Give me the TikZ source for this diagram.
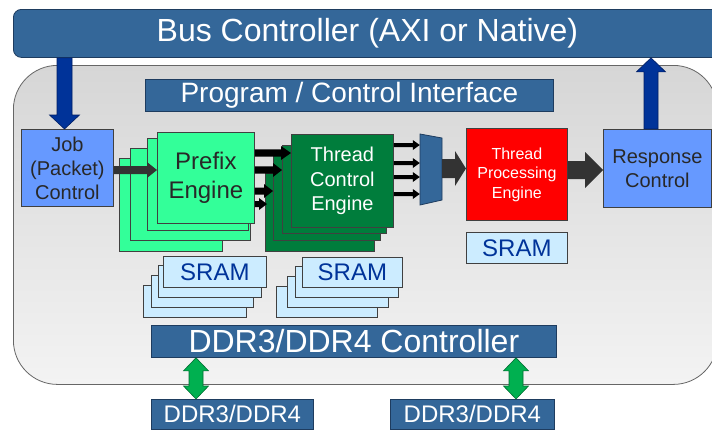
\documentclass[tikz,border=0pt]{standalone}
\usepackage{fontspec}
\usepackage{graphicx}
\setmainfont{Liberation Sans}
\usetikzlibrary{calc,fit}
\definecolor{steel}{RGB}{52,103,153}
\definecolor{steelline}{RGB}{30,60,95}
\definecolor{lblue}{RGB}{102,153,255}
\definecolor{lgreen}{RGB}{51,255,153}
\definecolor{dgreen}{RGB}{0,125,60}
\definecolor{sramfill}{RGB}{204,236,255}
\definecolor{sramtext}{RGB}{0,51,153}
\definecolor{navy}{RGB}{0,51,153}
\definecolor{navyline}{RGB}{0,30,100}
\definecolor{ggreen}{RGB}{0,176,80}
\definecolor{ggreenline}{RGB}{0,110,50}
\definecolor{dgray}{RGB}{51,51,51}
\definecolor{txtgray}{RGB}{40,40,40}
\definecolor{bgtop}{RGB}{214,214,214}
\definecolor{bgbot}{RGB}{243,243,243}
\definecolor{boxline}{RGB}{64,64,64}
\tikzset{
  blk/.style={draw=boxline, line width=0.8pt, inner sep=0pt, anchor=north west, align=center},
  sz/.style 2 args={minimum width=#1pt, minimum height=#2pt},
  fs/.style 2 args={font=\fontsize{#1}{#2}\selectfont},
  steelbox/.style={blk, fill=steel, draw=steelline, text=white},
  pebox/.style={blk, fill=lgreen},
  tcebox/.style={blk, fill=dgreen, text=white},
  srambox/.style={blk, fill=sramfill, text=sramtext, fs={24}{28}},
  harrow/.style n args={3}{to path={let \p1=(\tikztostart), \p2=(\tikztotarget) in
    (\x1,\y1+#1) -- (\x2-#3,\y1+#1) -- (\x2-#3,\y1+#2) -- (\x2,\y1) -- (\x2-#3,\y1-#2) -- (\x2-#3,\y1-#1) -- (\x1,\y1-#1) -- cycle}},
  varrow/.style n args={3}{to path={let \p1=(\tikztostart), \p2=(\tikztotarget), \n1={(\y1-\y2)/abs(\y1-\y2)} in
    (\x1-#1,\y1) -- (\x1-#1,\y2+\n1*#3) -- (\x1-#2,\y2+\n1*#3) -- (\x1,\y2) -- (\x1+#2,\y2+\n1*#3) -- (\x1+#1,\y2+\n1*#3) -- (\x1+#1,\y1) -- cycle}},
  dvarrow/.style n args={3}{to path={let \p1=(\tikztostart), \p2=(\tikztotarget), \n1={(\y1-\y2)/abs(\y1-\y2)} in
    (\x1-#1,\y1-\n1*#3) -- (\x1-#1,\y2+\n1*#3) -- (\x1-#2,\y2+\n1*#3) -- (\x1,\y2) -- (\x1+#2,\y2+\n1*#3) -- (\x1+#1,\y2+\n1*#3) -- (\x1+#1,\y1-\n1*#3) -- (\x1+#2,\y1-\n1*#3) -- (\x1,\y1) -- (\x1-#2,\y1-\n1*#3) -- cycle}},
  darkarrow/.style={fill=dgray},
  blackarrow/.style={fill=black},
  bluearrow/.style={fill=navy, draw=navyline, line width=0.6pt},
  greenarrow/.style={fill=ggreen, draw=ggreenline, line width=0.6pt},
}
\begin{document}
\begin{tikzpicture}[x=1pt,y=-1pt]
\useasboundingbox (0,0) rectangle (712,432);
\clip (0,0) rectangle (712,432);
\fill[white] (0,0) rectangle (712,432);

% chip background
\node[anchor=north west, inner sep=0pt, sz={704}{319}, rounded corners=44pt,
      top color=bgtop, bottom color=bgbot, draw=gray!80!black, line width=0.8pt] (chip) at (13,65) {};

% bus controller
\node[steelbox, rounded corners=8pt, sz={708}{48}, fs={32}{36}] (bus) at (13,9) {Bus Controller (AXI or Native)};

% program / control interface
\node[steelbox, sz={408}{32}, fs={28}{32}] (pci) at (145,79) {Program / Control Interface};

% job control
\node[blk, fill=lblue, text=txtgray, sz={92}{77}, fs={20}{24}] (job) at (21,129) {Job\\(Packet)\\Control};

% prefix engine stack
\node[pebox, sz={103}{93}] (pe4) at (119,158) {};
\node[pebox, sz={120}{92}] (pe3) at (130,148) {};
\node[pebox, sz={101}{92}] (pe2) at (147,138) {};
\node[pebox, sz={97}{91}, text=txtgray, fs={24}{29}] (pe) at (157,132) {Prefix\\Engine};

% thread control engine stack
\node[tcebox, sz={109}{78}] (tce4) at (265,173) {};
\node[tcebox, sz={107}{87}] (tce3) at (273,153) {};
\node[tcebox, sz={104}{88}] (tce2) at (282,145) {};
\node[tcebox, sz={102}{93}, fs={20}{24.5}] (tce) at (291,134) {Thread\\Control\\Engine};

% mux
\node[fit={(420,134) (442,205)}, inner sep=0pt] (mux) {};
\draw[fill=steel, draw=steelline, line width=0.8pt] (420,134) -- (442,138) -- (442,200) -- (420,205) -- cycle;

% thread processing engine
\node[blk, fill=red, text=white, sz={101}{92}, fs={16}{19.5}] (tpe) at (466,128) {Thread\\Processing\\Engine};
\node[srambox, sz={101}{31}] (sramc) at (466,232) {SRAM};

% response control
\node[blk, fill=lblue, text=txtgray, sz={108}{78}, fs={20}{24}] (resp) at (603,129) {Response\\Control};

% SRAM stacks
\node[srambox, sz={103}{32}] (sa4) at (143,285) {};
\node[srambox, sz={102}{32}] (sa3) at (151,275) {};
\node[srambox, sz={103}{32}] (sa2) at (158,265) {};
\node[srambox, sz={103}{31}] (sa) at (163,256) {SRAM};
\node[srambox, sz={101}{31}] (sb4) at (276,286) {};
\node[srambox, sz={101}{31}] (sb3) at (287,276) {};
\node[srambox, sz={103}{31}] (sb2) at (295,266) {};
\node[srambox, sz={100}{30}] (sb) at (302,257) {SRAM};

% DDR controller and memories
\node[steelbox, sz={405}{32}, fs={32}{34}] (ddrc) at (151,325) {DDR3/DDR4 Controller};
\node[steelbox, sz={162}{30}, fs={24}{28}] (ddr1) at (151,399) {DDR3/DDR4};
\node[steelbox, sz={164}{30}, fs={24}{28}] (ddr2) at (390,399) {DDR3/DDR4};

% arrows
\path[bluearrow, varrow={7.5}{15}{14}] (bus.south -| 64.5,0) to (job.north -| 64.5,0);
\path[bluearrow, varrow={7}{14.5}{14}] (resp.north -| 651,0) to (bus.south -| 651,0);

\path[darkarrow, harrow={4}{8}{10}] (job.east |- 0,170) to (pe.west);

\path[blackarrow, harrow={3.7}{7}{10}] (pe.east |- 0,153) to (tce.west);
\path[blackarrow, harrow={3.7}{7}{9}] (pe.east |- 0,170) to (tce2.west);
\path[blackarrow, harrow={3.5}{7}{9}] (pe.east |- 0,191) to (tce3.west);
\path[blackarrow, harrow={3}{6}{8}] (pe.east |- 0,204) to ([xshift=2pt]tce4.west);

\path[blackarrow, harrow={2}{5}{7}] (tce.east |- 0,145) to (mux.west);
\path[blackarrow, harrow={2}{5}{7}] (tce.east |- 0,163) to (mux.west);
\path[blackarrow, harrow={2}{5}{7}] (tce.east |- 0,177) to (mux.west);
\path[blackarrow, harrow={2}{5}{7}] (tce.east |- 0,194) to (mux.west);

\path[darkarrow, harrow={9.5}{17.5}{11}] (mux.east |- 0,168.5) to (tpe.west);
\path[darkarrow, harrow={9}{18}{18}] (tpe.east |- 0,170) to (resp.west);

\path[greenarrow, dvarrow={7}{12.5}{13}] (ddrc.south -| 196,0) to (ddr1.north -| 196,0);
\path[greenarrow, dvarrow={7}{12.5}{13}] (ddrc.south -| 516,0) to (ddr2.north -| 516,0);
\end{tikzpicture}
\end{document}
